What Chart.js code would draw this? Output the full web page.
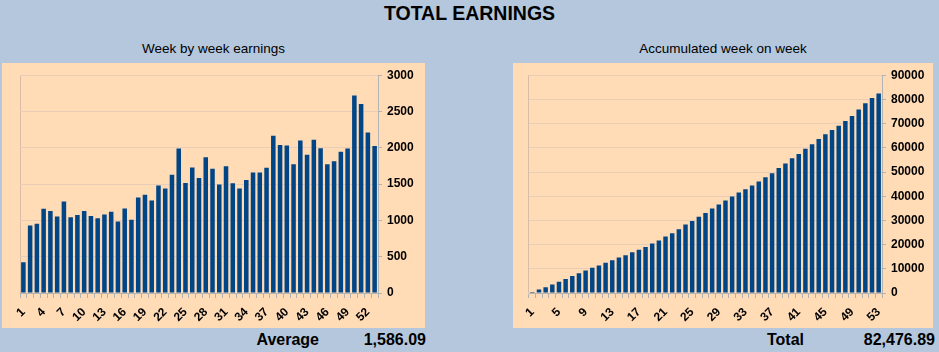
<!DOCTYPE html>
<html>
<head>
<meta charset="utf-8">
<script src="https://cdn.jsdelivr.net/npm/chart.js@4/dist/chart.umd.min.js"></script>
<style>
  html, body { margin: 0; padding: 0; }
  body {
    width: 939px; height: 352px; overflow: hidden; position: relative;
    background: #b4c7dc;
    font-family: 'Liberation Sans', Arial, sans-serif; color: #000;
  }
  .txt { position: absolute; white-space: nowrap; }
  #title { left: 0; width: 939px; top: 3.5px; text-align: center; font-size: 19.5px; line-height: 19.5px; font-weight: bold; }
  .sub { font-size: 13.5px; line-height: 13.5px; top: 42px; text-align: center; }
  .panel { position: absolute; top: 63px; height: 265px; background: #ffdbb6; }
  .foot { font-size: 16px; line-height: 16px; font-weight: bold; top: 332px; }
</style>
</head>
<body>
<div id="title" class="txt">TOTAL EARNINGS</div>
<div class="txt sub" style="left:2px;width:423px;">Week by week earnings</div>
<div class="txt sub" style="left:513px;width:420px;">Accumulated week on week</div>

<div class="panel" style="left:2px;width:423px;"><canvas id="weekly"></canvas></div>
<div class="panel" style="left:513px;width:420px;"><canvas id="cumulative"></canvas></div>

<div class="txt foot" style="right:620px;">Average</div>
<div class="txt foot" style="right:513px;">1,586.09</div>
<div class="txt foot" style="left:767px;">Total</div>
<div class="txt foot" style="right:4px;">82,476.89</div>

<script>
// week numbers on the x axis
const weeks = Array.from({ length: 53 }, (_, i) => String(i + 1));

// earnings per week
const weeklyEarnings = [
  425, 930, 955, 1160, 1130, 1055, 1260, 1045, 1075, 1130,
  1060, 1030, 1080, 1120, 985, 1165, 1010, 1315, 1355, 1275,
  1480, 1440, 1630, 1990, 1515, 1730, 1585, 1870, 1710, 1495,
  1745, 1510, 1440, 1555, 1660, 1660, 1725, 2165, 2040, 2030,
  1775, 2100, 1905, 2110, 1995, 1775, 1815, 1945, 1990, 2720,
  2605, 2210, 2025
];

// running total
const accumulated = [
  430, 1400, 2400, 3550, 4700, 5800, 7050, 8150, 9300, 10400,
  11400, 12450, 13550, 14650, 15650, 16850, 17850, 19050, 20500, 21700,
  23300, 24700, 26350, 28300, 29800, 31500, 33100, 34950, 36600, 38200,
  39900, 41500, 42850, 44450, 46100, 47800, 49500, 51650, 53550, 55700,
  57450, 59600, 61500, 63650, 65600, 67350, 69150, 71100, 73100, 75800,
  78400, 80550, 82480
];

const weeklyTicks = { min: 0, max: 3000, step: 500 };
const accumulatedTicks = { min: 0, max: 90000, step: 10000 };

Chart.defaults.font.family = "'Liberation Sans', Arial, sans-serif";
Chart.defaults.font.size = 12;
Chart.defaults.font.weight = 'bold';
Chart.defaults.color = '#000';

const BAR = '#004586';
const GRID = '#e9cdb9';
const AXIS = '#b3b3b3';

function makeChart(id, values, yTicks, labelEvery, pad, yWidth) {
  return new Chart(document.getElementById(id), {
    type: 'bar',
    data: {
      labels: weeks,
      datasets: [{
        data: values,
        backgroundColor: BAR,
        borderWidth: 0,
        categoryPercentage: 1.0,
        barPercentage: 0.67
      }]
    },
    options: {
      responsive: true,
      maintainAspectRatio: false,
      animation: false,
      layout: { padding: { left: pad, top: 12, right: 0, bottom: 0 } },
      plugins: { legend: { display: false }, tooltip: { enabled: false } },
      scales: {
        x: {
          grid: {
            // only the left edge of the plot gets a line
            color: (c) => c.index === 0 ? '#d8bca8' : 'transparent',
            tickColor: AXIS,
            tickLength: 5
          },
          border: { display: true, color: AXIS },
          ticks: {
            autoSkip: false,
            maxRotation: 45,
            minRotation: 45,
            padding: 7,
            callback: (v, i) => i % labelEvery === 0 ? weeks[i] : ''
          },
          afterFit: (scale) => { scale.height = 35; }
        },
        y: {
          position: 'right',
          min: yTicks.min,
          max: yTicks.max,
          grid: { color: GRID, tickColor: AXIS, tickLength: 4 },
          border: { display: true, color: AXIS },
          ticks: { stepSize: yTicks.step, padding: 5, callback: (v) => String(v) },
          afterFit: (scale) => { scale.width = yWidth; }
        }
      }
    }
  });
}

makeChart('weekly', weeklyEarnings, weeklyTicks, 3, 18, 47);
makeChart('cumulative', accumulated, accumulatedTicks, 4, 16, 51);
</script>
</body>
</html>
